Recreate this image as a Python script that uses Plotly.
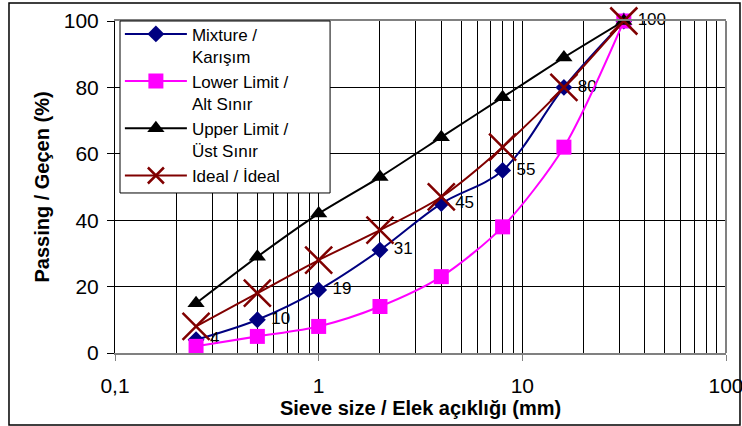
import plotly.graph_objects as go

sieve = [0.25, 0.5, 1, 2, 4, 8, 16, 31.5]
mixture = [4, 10, 19, 31, 45, 55, 80, 100]
lower = [2, 5, 8, 14, 23, 38, 62, 100]
upper = [15, 29, 42, 53, 65, 77, 89, 100]
ideal = [8, 18, 28, 37, 47, 62, 80, 100]

x_tickvals = [0.1, 1, 10, 100]
x_ticktext = ["0,1", "1", "10", "100"]
names = ["Mixture /<br>Karışım", "Lower Limit /<br>Alt Sınır",
         "Upper Limit /<br>Üst Sınır", "Ideal / İdeal"]

FONT = "Liberation Sans, Arial, sans-serif"

fig = go.Figure()
fig.add_trace(go.Scatter(
    x=sieve, y=mixture, name=names[0], mode="lines+markers+text",
    line=dict(color="#000080", width=2, shape="spline", smoothing=1.0),
    marker=dict(symbol="diamond", size=13, color="#000080"),
    text=["\u00a0" + str(v) for v in mixture], textposition="middle right",
    textfont=dict(family=FONT, size=17, color="#000000"),
    cliponaxis=False,
))
fig.add_trace(go.Scatter(
    x=sieve, y=lower, name=names[1], mode="lines+markers",
    line=dict(color="#FF00FF", width=2, shape="spline", smoothing=0.8),
    marker=dict(symbol="square", size=15, color="#FF00FF"),
    cliponaxis=False,
))
fig.add_trace(go.Scatter(
    x=sieve, y=upper, name=names[2], mode="lines+markers",
    line=dict(color="#000000", width=2, shape="spline", smoothing=0.5),
    marker=dict(symbol="triangle-up", size=15, color="#000000"),
    cliponaxis=False,
))
fig.add_trace(go.Scatter(
    x=sieve, y=ideal, name=names[3], mode="lines+markers",
    line=dict(color="#800000", width=2, shape="spline", smoothing=0.8),
    marker=dict(symbol="x-thin", size=27, line=dict(color="#800000", width=2.5)),
    cliponaxis=False,
))

fig.update_layout(
    width=742, height=426,
    margin=dict(l=115, r=16, t=21, b=73),
    paper_bgcolor="white", plot_bgcolor="white",
    font=dict(family=FONT, size=20, color="#000000"),
    showlegend=True,
    legend=dict(
        x=0.008, y=1.014, xanchor="left", yanchor="top",
        bgcolor="rgba(0,0,0,0)", borderwidth=0,
        font=dict(family=FONT, size=17, color="#000000"),
        valign="top", tracegroupgap=0, itemwidth=62,
    ),
    xaxis=dict(
        type="log", range=[-1, 2], automargin=False,
        tickvals=x_tickvals, ticktext=x_ticktext,
        ticklabeloverflow="allow",
        showgrid=True, gridcolor="#000000", gridwidth=1,
        minor=dict(showgrid=True, gridcolor="#000000", gridwidth=1, dtick="D1", ticks=""),
        showline=True, linecolor="#808080", linewidth=2, mirror=True,
        ticks="outside", ticklen=6, tickcolor="#808080", tickwidth=1,
        ticklabelstandoff=7,
        tickfont=dict(family=FONT, size=21),
        title=dict(text="<b>Sieve size / Elek açıklığı (mm)</b>",
                   font=dict(family=FONT, size=20), standoff=0),
        zeroline=False,
    ),
    yaxis=dict(
        range=[0, 100], dtick=20, automargin=False,
        showgrid=True, gridcolor="#000000", gridwidth=1,
        showline=True, linecolor="#000000", linewidth=1,
        ticks="outside", ticklen=7, tickcolor="#000000",
        ticklabelstandoff=4,
        tickfont=dict(family=FONT, size=21),
        title=dict(text="<b>Passing / Geçen (%)</b>",
                   font=dict(family=FONT, size=20), standoff=8),
        zeroline=False,
    ),
    shapes=[
        dict(type="line", xref="paper", yref="paper", x0=1, x1=1, y0=0, y1=1,
             line=dict(color="#808080", width=2)),
        dict(type="rect", xref="paper", yref="paper", layer="above",
             x0=0.0082, x1=0.352, y0=0.482, y1=1,
             fillcolor="white", line=dict(color="#000000", width=1)),
        dict(type="rect", xref="paper", yref="paper",
             x0=-0.1735, x1=1.0229, y0=-0.2169, y1=1.0542,
             line=dict(color="#000000", width=1.5)),
    ],
)

fig.write_html("out.html", config={"displayModeBar": False},
               post_script="document.body.style.margin='0';document.body.style.padding='0';")
